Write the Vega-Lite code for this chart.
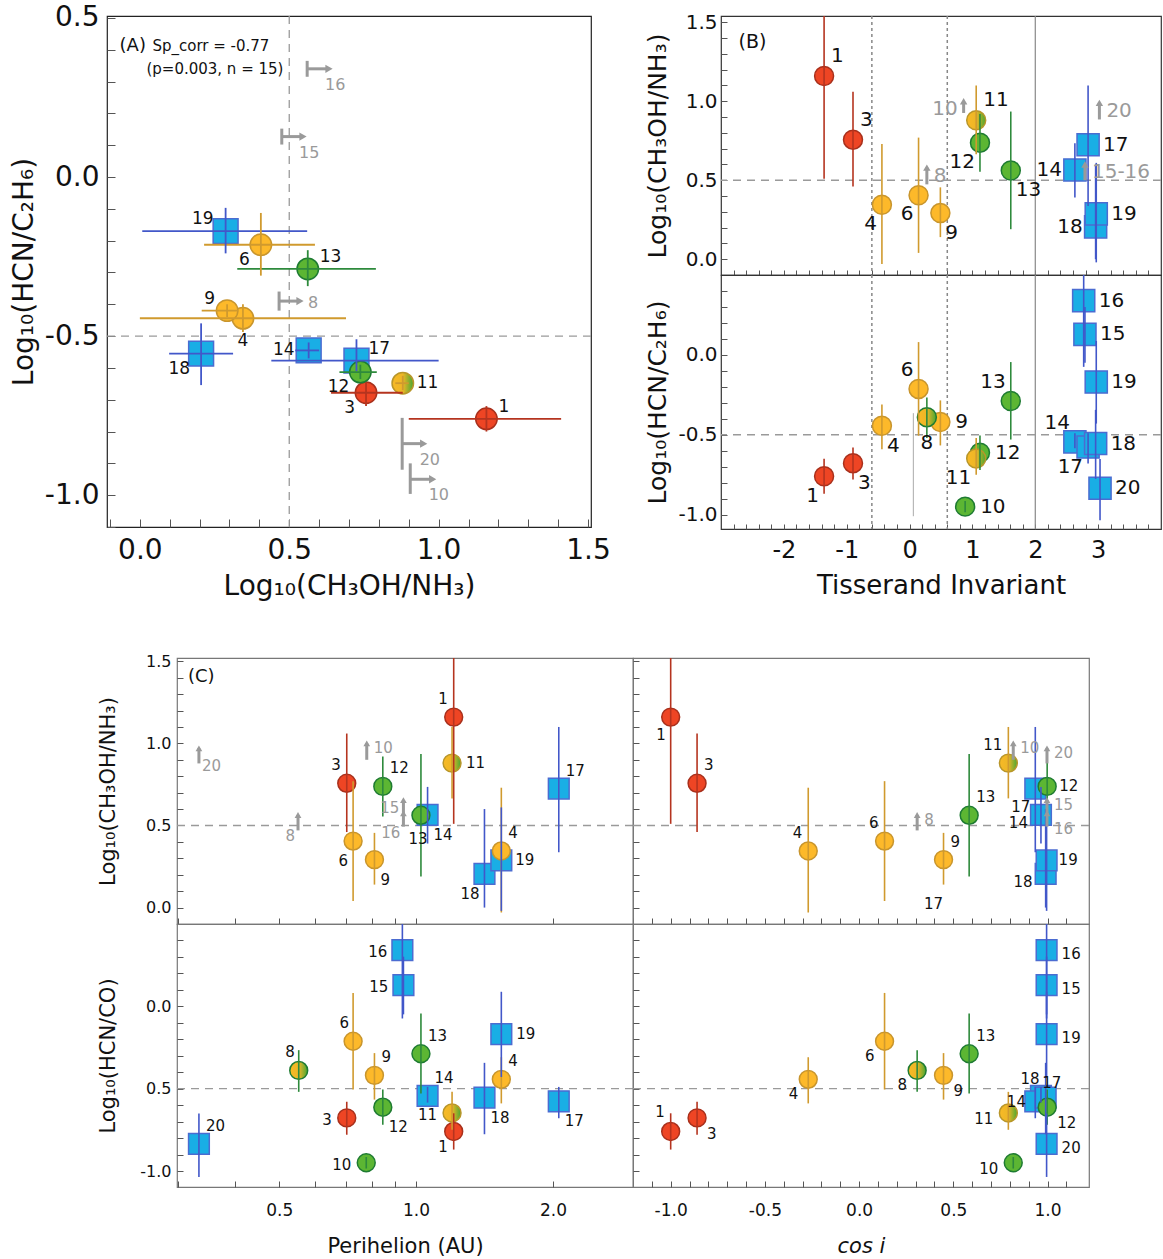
{
"$schema": "https://vega.github.io/schema/vega-lite/v6.json",
"padding": {"left": 9, "top": 3, "right": 0, "bottom": 0},
"background": "white",
"config": {
 "font": "DejaVu Sans",
 "view": {"stroke": "#333", "strokeWidth": 1.2},
 "axis": {"grid": false, "domain": false, "labelFont": "DejaVu Sans", "titleFont": "DejaVu Sans", "titleFontWeight": "normal", "labelColor": "#111", "titleColor": "#111", "tickColor": "#555", "tickWidth": 1, "labelOverlap": false, "labelFlush": false, "labelBound": false},
 "text": {"font": "DejaVu Sans", "color": "#111"}
},
"datasets": {
 "one": [{}],
 "comets": [
  {"id":1,"grp":"red","shp":"circle","grad":false,"m":1.16,"mlo":0.51,"mhi":1.6,"axlo":0.9,"axhi":1.41,"e":-0.76,"elo":-0.87,"ehi":-0.65,"aylo":-0.8,"ayhi":-0.72,"T":-1.36,"q":1.21,"c":-1.0,"la":"ne","lbt":"ne","lbb":"sw","lctl":"nw","lctr":"sw","lcbl":"sw","lcbr":"nw"},
  {"id":3,"grp":"red","shp":"circle","grad":false,"m":0.757,"mlo":0.46,"mhi":1.06,"axlo":0.64,"axhi":0.88,"e":-0.678,"elo":-0.78,"ehi":-0.58,"aylo":-0.72,"ayhi":-0.645,"T":-0.9,"q":0.704,"c":-0.86,"la":"sw","lbt":"ne","lbb":"se","lctl":"nw","lctr":"ne","lcbl":"w","lcbr":"se"},
  {"id":4,"grp":"orange","shp":"circle","grad":false,"m":0.345,"mlo":-0.03,"mhi":0.73,"axlo":0.0,"axhi":0.69,"e":-0.444,"elo":-0.59,"ehi":-0.31,"aylo":-0.487,"ayhi":-0.4,"T":-0.44,"q":1.54,"c":-0.27,"la":"s","lbt":"sw","lbb":"se","lctl":"ne","lctr":"nw","lcbl":"ne","lcbr":"sw"},
  {"id":6,"grp":"orange","shp":"circle","grad":false,"m":0.405,"mlo":0.04,"mhi":0.77,"axlo":0.215,"axhi":0.586,"e":-0.213,"elo":-0.506,"ehi":0.08,"aylo":-0.31,"ayhi":-0.113,"T":0.143,"q":0.727,"c":0.135,"la":"sw","lbt":"sw","lbb":"nw","lctl":"sw","lctr":"nw","lcbl":"nw","lcbr":"sw"},
  {"id":8,"grp":"green","shp":"circle","grad":true,"m":null,"e":-0.39,"elo":-0.52,"ehi":-0.267,"T":0.275,"q":0.552,"c":0.308,"lbb":"s","lcbl":"nw","lcbr":"sw"},
  {"id":9,"grp":"orange","shp":"circle","grad":false,"m":0.292,"mlo":0.14,"mhi":0.455,"axlo":0.207,"axhi":0.33,"e":-0.42,"elo":-0.567,"ehi":-0.285,"aylo":-0.44,"ayhi":-0.4,"T":0.49,"q":0.81,"c":0.448,"la":"nw","lbt":"se","lbb":"e","lctl":"se","lctr":"ne","lcbl":"ne","lcbr":"se"},
  {"id":10,"grp":"green","shp":"circle","grad":false,"m":null,"e":-0.95,"elo":-0.985,"ehi":-0.915,"T":0.884,"q":0.777,"c":0.818,"lbb":"e","lcbl":"w","lcbr":"w"},
  {"id":11,"grp":"orange","shp":"circle","grad":true,"m":0.88,"mlo":0.665,"mhi":1.1,"axlo":0.855,"axhi":0.9,"e":-0.648,"elo":-0.75,"ehi":-0.52,"aylo":-0.67,"ayhi":-0.625,"T":1.06,"q":1.2,"c":0.792,"la":"e","lbt":"ne","lbb":"sw","lctl":"e","lctr":"nw","lcbl":"w","lcbr":"w"},
  {"id":12,"grp":"green","shp":"circle","grad":false,"m":0.738,"mlo":0.554,"mhi":0.92,"axlo":0.668,"axhi":0.793,"e":-0.613,"elo":-0.72,"ehi":-0.505,"aylo":-0.635,"ayhi":-0.59,"T":1.12,"q":0.845,"c":0.998,"la":"sw","lbt":"sw","lbb":"e","lctl":"ne","lctr":"e","lcbl":"se","lcbr":"se"},
  {"id":13,"grp":"green","shp":"circle","grad":false,"m":0.562,"mlo":0.19,"mhi":0.935,"axlo":0.326,"axhi":0.79,"e":-0.289,"elo":-0.53,"ehi":-0.045,"aylo":-0.343,"ayhi":-0.23,"T":1.61,"q":1.025,"c":0.584,"la":"ne","lbt":"se","lbb":"nw","lctl":"s","lctr":"ne","lcbl":"ne","lcbr":"ne"},
  {"id":14,"grp":"blue","shp":"square","grad":false,"m":0.565,"mlo":0.39,"mhi":0.735,"axlo":0.52,"axhi":0.6,"e":-0.545,"elo":-0.585,"ehi":-0.49,"aylo":-0.57,"ayhi":-0.52,"T":2.63,"q":1.06,"c":0.965,"la":"w","lbt":"w","lbb":"nw","lctl":"se","lctr":"w","lcbl":"ne","lcbr":"w"},
  {"id":15,"grp":"blue","shp":"square","grad":false,"m":null,"e":0.128,"elo":-0.05,"ehi":0.3,"T":2.79,"q":0.938,"c":0.995,"lbb":"e","lcbl":"w","lcbr":"e"},
  {"id":16,"grp":"blue","shp":"square","grad":false,"m":null,"e":0.34,"elo":-0.075,"ehi":0.6,"T":2.77,"q":0.933,"c":0.995,"lbb":"e","lcbl":"w","lcbr":"e"},
  {"id":17,"grp":"blue","shp":"square","grad":false,"m":0.725,"mlo":0.337,"mhi":1.1,"axlo":0.44,"axhi":1.0,"e":-0.577,"elo":-0.68,"ehi":-0.49,"aylo":-0.61,"ayhi":-0.51,"T":2.84,"q":2.06,"c":0.935,"la":"ne","lbt":"e","lbb":"sw","lctl":"ne","lctr":"sw","lcbl":"se","lcbr":"ne"},
  {"id":18,"grp":"blue","shp":"square","grad":false,"m":0.205,"mlo":0.0,"mhi":0.6,"axlo":0.098,"axhi":0.312,"e":-0.555,"elo":-0.777,"ehi":-0.344,"aylo":-0.654,"ayhi":-0.46,"T":2.96,"q":1.414,"c":0.99,"la":"sw","lbt":"w","lbb":"e","lctl":"sw","lctr":"w","lcbl":"se","lcbr":"nw"},
  {"id":19,"grp":"blue","shp":"square","grad":false,"m":0.287,"mlo":-0.02,"mhi":0.61,"axlo":0.008,"axhi":0.56,"e":-0.17,"elo":-0.43,"ehi":0.087,"aylo":-0.24,"ayhi":-0.097,"T":2.97,"q":1.54,"c":0.995,"la":"nw","lbt":"e","lbb":"e","lctl":"e","lctr":"e","lcbl":"e","lcbr":"e"},
  {"id":20,"grp":"blue","shp":"square","grad":false,"m":null,"e":-0.835,"elo":-1.036,"ehi":-0.652,"T":3.03,"q":0.333,"c":0.995,"lbb":"e","lcbl":"ne","lcbr":"e"}
 ],
 "limA": [
  {"lab":"16","y":0.34,"x0":0.56,"x1":0.633,"ylo":0.315,"yhi":0.365,"ld":"se"},
  {"lab":"15","y":0.127,"x0":0.475,"x1":0.546,"ylo":0.102,"yhi":0.152,"ld":"se"},
  {"lab":"8","y":-0.39,"x0":0.466,"x1":0.536,"ylo":-0.42,"yhi":-0.36,"ld":"e"},
  {"lab":"20","y":-0.838,"x0":0.878,"x1":0.95,"ylo":-0.92,"yhi":-0.757,"ld":"se"},
  {"lab":"10","y":-0.95,"x0":0.905,"x1":0.98,"ylo":-0.996,"yhi":-0.9,"ld":"se"}
 ],
 "limBt": [
  {"lab":"10","T":0.86,"y0":0.926,"y1":1.0,"ld":"tw"},
  {"lab":"8","T":0.275,"y0":0.474,"y1":0.58,"ld":"te"},
  {"lab":"20","T":3.02,"y0":0.885,"y1":0.99,"ld":"te"},
  {"lab":"15-16","T":2.79,"y0":0.5,"y1":0.6,"ld":"te"}
 ],
 "limC": [
  {"lab":"20","q":0.333,"c":0.997,"y0":0.878,"y1":0.97,"ltl":"tse","ltr":"te"},
  {"lab":"10","q":0.779,"c":0.818,"y0":0.9,"y1":1.0,"ltl":"te","ltr":"te"},
  {"lab":"8","q":0.55,"c":0.308,"y0":0.47,"y1":0.564,"ltl":"bw","ltr":"te"},
  {"lab":"15","q":0.938,"c":0.997,"y0":0.564,"y1":0.655,"ltl":"tw","ltr":"te"},
  {"lab":"16","q":0.938,"c":0.997,"y0":0.493,"y1":0.574,"ltl":"bw","ltr":"be"}
 ]
},
"spacing": 51,
"vconcat": [
 {"spacing": 33, "hconcat": [
  {"width": 484, "height": 511, "view": {"stroke": "#222"}, "data": {"name": "comets"},
   "layer": [
    {"data": {"name": "one"}, "mark": {"type":"rule","color":"#9a9a9a","strokeDash":[8,6],"strokeWidth":1.3}, "encoding": {"x": {"datum": 0.5}}},
    {"data": {"name": "one"}, "mark": {"type":"rule","color":"#9a9a9a","strokeDash":[8,6],"strokeWidth":1.3}, "encoding": {"y": {"datum": -0.5}}},
    {"transform":[{"filter":"isValid(datum.m) && datum.shp=='square'"}],
     "mark":{"type":"point","shape":"square","filled":true,"size":620,"strokeWidth":1.5,"opacity":1},
     "encoding":{
      "x":{"field":"m","type":"quantitative","scale":{"domain":[-0.11,1.51],"nice":false,"zero":false},"axis":{"title":"Log₁₀(CH₃OH/NH₃)","values":[-0.1,0,0.1,0.2,0.3,0.4,0.5,0.6,0.7,0.8,0.9,1,1.1,1.2,1.3,1.4,1.5],"tickCount":500,"labelExpr":"abs(datum.value*2-round(datum.value*2))<0.01 ? replace(format(datum.value,'.1f'),'−','-') : ''","labelOverlap":false,"tickSize":-8,"labelPadding":17,"labelFontSize":28,"titleFontSize":28,"titlePadding":8}},
      "y":{"field":"e","type":"quantitative","scale":{"domain":[-1.1,0.506],"nice":false,"zero":false},"axis":{"title":"Log₁₀(HCN/C₂H₆)","values":[-1.1,-1,-0.9,-0.8,-0.7,-0.6,-0.5,-0.4,-0.3,-0.2,-0.1,0,0.1,0.2,0.3,0.4,0.5],"tickCount":500,"labelExpr":"abs(datum.value*2-round(datum.value*2))<0.01 ? replace(format(datum.value,'.1f'),'−','-') : ''","labelOverlap":false,"tickSize":-8,"labelPadding":16,"labelFontSize":28,"titleFontSize":28,"titlePadding":6}},
      "fill":{"field":"grp","type":"nominal","scale":{"domain":["red","orange","green","blue"],"range":["#EE4524","#FDB92A","#5CB633","#19AEE5"]},"legend":null},
      "stroke":{"field":"grp","type":"nominal","scale":{"domain":["red","orange","green","blue"],"range":["#A8301C","#C8952D","#1E7B32","#4B6CD1"]},"legend":null}}},
    {"transform":[{"filter":"isValid(datum.m) && datum.shp=='circle' && !datum.grad"}],
     "mark":{"type":"point","shape":"circle","filled":true,"size":460,"strokeWidth":1.5,"opacity":1},
     "encoding":{"x":{"field":"m","type":"quantitative"},"y":{"field":"e","type":"quantitative"},
      "fill":{"field":"grp","type":"nominal","legend":null},"stroke":{"field":"grp","type":"nominal","legend":null}}},
    {"transform":[{"filter":"isValid(datum.m) && datum.grad"}],
     "mark":{"type":"point","shape":"circle","filled":true,"size":460,"strokeWidth":1.5,"opacity":1,"fill":{"gradient":"linear","x1":0,"y1":0,"x2":1,"y2":0,"stops":[{"offset":0,"color":"#F8BA26"},{"offset":0.5,"color":"#EDB626"},{"offset":1,"color":"#45A832"}]}},
     "encoding":{"x":{"field":"m","type":"quantitative"},"y":{"field":"e","type":"quantitative"},"stroke":{"condition":{"test":"datum.id==8","value":"#1E7B32"},"value":"#B8962A"}}},
    {"transform":[{"filter":"isValid(datum.m)"}],"mark":{"type":"rule","strokeWidth":1.8},
     "encoding":{"x":{"field":"axlo","type":"quantitative"},"x2":{"field":"axhi"},"y":{"field":"e","type":"quantitative"},
      "color":{"field":"grp","type":"nominal","scale":{"domain":["red","orange","green","blue"],"range":["#B5341F","#D09A2E","#2E8A3C","#4257C9"]},"legend":null}}},
    {"transform":[{"filter":"isValid(datum.m)"}],"mark":{"type":"rule","strokeWidth":1.8},
     "encoding":{"x":{"field":"m","type":"quantitative"},"y":{"field":"aylo","type":"quantitative"},"y2":{"field":"ayhi"},"color":{"field":"grp","type":"nominal","legend":null}}},
    {"transform":[{"filter":"isValid(datum.m) && datum.la=='ne'"}],"mark":{"type":"text","align":"left","baseline":"middle","dx":12,"dy":-12,"fontSize":17},"encoding":{"x":{"field":"m","type":"quantitative"},"y":{"field":"e","type":"quantitative"},"text":{"field":"id","type":"nominal"}}},
    {"transform":[{"filter":"isValid(datum.m) && datum.la=='nw'"}],"mark":{"type":"text","align":"right","baseline":"middle","dx":-12,"dy":-12,"fontSize":17},"encoding":{"x":{"field":"m","type":"quantitative"},"y":{"field":"e","type":"quantitative"},"text":{"field":"id","type":"nominal"}}},
    {"transform":[{"filter":"isValid(datum.m) && datum.la=='sw'"}],"mark":{"type":"text","align":"right","baseline":"middle","dx":-11,"dy":15,"fontSize":17},"encoding":{"x":{"field":"m","type":"quantitative"},"y":{"field":"e","type":"quantitative"},"text":{"field":"id","type":"nominal"}}},
    {"transform":[{"filter":"isValid(datum.m) && datum.la=='s'"}],"mark":{"type":"text","align":"center","baseline":"middle","dx":0,"dy":23,"fontSize":17},"encoding":{"x":{"field":"m","type":"quantitative"},"y":{"field":"e","type":"quantitative"},"text":{"field":"id","type":"nominal"}}},
    {"transform":[{"filter":"isValid(datum.m) && datum.la=='w'"}],"mark":{"type":"text","align":"right","baseline":"middle","dx":-14,"dy":0,"fontSize":17},"encoding":{"x":{"field":"m","type":"quantitative"},"y":{"field":"e","type":"quantitative"},"text":{"field":"id","type":"nominal"}}},
    {"transform":[{"filter":"isValid(datum.m) && datum.la=='e'"}],"mark":{"type":"text","align":"left","baseline":"middle","dx":14,"dy":0,"fontSize":17},"encoding":{"x":{"field":"m","type":"quantitative"},"y":{"field":"e","type":"quantitative"},"text":{"field":"id","type":"nominal"}}},
    {"data":{"name":"limA"},"mark":{"type":"rule","color":"#9a9a9a","strokeWidth":3},"encoding":{"x":{"field":"x0","type":"quantitative"},"x2":{"field":"x1"},"y":{"field":"y","type":"quantitative"}}},
    {"data":{"name":"limA"},"mark":{"type":"rule","color":"#9a9a9a","strokeWidth":3},"encoding":{"x":{"field":"x0","type":"quantitative"},"y":{"field":"ylo","type":"quantitative"},"y2":{"field":"yhi"}}},
    {"data":{"name":"limA"},"mark":{"type":"point","shape":"triangle-right","filled":true,"size":70,"color":"#9a9a9a","opacity":1},"encoding":{"x":{"field":"x1","type":"quantitative"},"y":{"field":"y","type":"quantitative"}}},
    {"data":{"name":"limA"},"transform":[{"filter":"datum.ld=='se'"}],"mark":{"type":"text","align":"left","baseline":"middle","dx":-4,"dy":16,"fontSize":16,"color":"#9a9a9a"},"encoding":{"x":{"field":"x1","type":"quantitative"},"y":{"field":"y","type":"quantitative"},"text":{"field":"lab","type":"nominal"}}},
    {"data":{"name":"limA"},"transform":[{"filter":"datum.ld=='e'"}],"mark":{"type":"text","align":"left","baseline":"middle","dx":8,"dy":2,"fontSize":16,"color":"#9a9a9a"},"encoding":{"x":{"field":"x1","type":"quantitative"},"y":{"field":"y","type":"quantitative"},"text":{"field":"lab","type":"nominal"}}},
    {"data": {"name": "one"}, "mark":{"type":"text","align":"left","baseline":"middle","fontSize":18,"text":"(A)"},"encoding":{"x":{"datum":-0.068},"y":{"datum":0.412}}},
    {"data": {"name": "one"}, "mark":{"type":"text","align":"left","baseline":"middle","fontSize":15,"text":"Sp_corr = -0.77"},"encoding":{"x":{"datum":0.042},"y":{"datum":0.412}}},
    {"data": {"name": "one"}, "mark":{"type":"text","align":"left","baseline":"middle","fontSize":15,"text":"(p=0.003, n = 15)"},"encoding":{"x":{"datum":0.022},"y":{"datum":0.34}}}
   ]},
  {"spacing": 0, "bounds": "flush", "vconcat": [
   {"width": 440, "height": 259, "view": {"stroke": "#333"}, "data": {"name": "comets"},
    "layer": [
     {"data": {"name": "one"}, "mark": {"type":"rule","color":"#888","strokeDash":[3,3],"strokeWidth":1.5}, "encoding": {"x": {"datum": -0.6}}},
     {"data": {"name": "one"}, "mark": {"type":"rule","color":"#888","strokeDash":[3,3],"strokeWidth":1.5}, "encoding": {"x": {"datum": 0.6}}},
     {"data": {"name": "one"}, "mark": {"type":"rule","color":"#888","strokeWidth":1.2}, "encoding": {"x": {"datum": 2}}},
     {"data": {"name": "one"}, "mark": {"type":"rule","color":"#9a9a9a","strokeDash":[8,6],"strokeWidth":1.3}, "encoding": {"y": {"datum": 0.5}}},
     {"transform":[{"filter":"isValid(datum.m) && datum.shp=='square'"}],
      "mark":{"type":"point","shape":"square","filled":true,"size":490,"strokeWidth":1.5,"opacity":1},
      "encoding":{
       "x":{"field":"T","type":"quantitative","scale":{"domain":[-3,4],"nice":false,"zero":false},"axis":{"labels":false,"title":null,"values":[-2.8,-2.6,-2.4,-2.2,-2,-1.8,-1.6,-1.4,-1.2,-1,-0.8,-0.6,-0.4,-0.2,0,0.2,0.4,0.6,0.8,1,1.2,1.4,1.6,1.8,2,2.2,2.4,2.6,2.8,3,3.2,3.4,3.6,3.8],"tickCount":500,"tickSize":-5}},
       "y":{"field":"m","type":"quantitative","scale":{"domain":[-0.1,1.54],"nice":false,"zero":false},"axis":{"title":"Log₁₀(CH₃OH/NH₃)","values":[0,0.1,0.2,0.3,0.4,0.5,0.6,0.7,0.8,0.9,1,1.1,1.2,1.3,1.4,1.5],"tickCount":500,"labelExpr":"abs(datum.value*2-round(datum.value*2))<0.01 ? replace(format(datum.value,'.1f'),'−','-') : ''","labelOverlap":false,"tickSize":-6,"labelPadding":10,"labelFontSize":20,"titleFontSize":25,"titlePadding":6,"minExtent":45,"maxExtent":45}},
       "fill":{"field":"grp","type":"nominal","scale":{"domain":["red","orange","green","blue"],"range":["#EE4524","#FDB92A","#5CB633","#19AEE5"]},"legend":null},
       "stroke":{"field":"grp","type":"nominal","scale":{"domain":["red","orange","green","blue"],"range":["#A8301C","#C8952D","#1E7B32","#4B6CD1"]},"legend":null}}},
     {"transform":[{"filter":"isValid(datum.m) && datum.shp=='circle' && !datum.grad"}],
      "mark":{"type":"point","shape":"circle","filled":true,"size":360,"strokeWidth":1.5,"opacity":1},
      "encoding":{"x":{"field":"T","type":"quantitative"},"y":{"field":"m","type":"quantitative"},"fill":{"field":"grp","type":"nominal","legend":null},"stroke":{"field":"grp","type":"nominal","legend":null}}},
     {"transform":[{"filter":"isValid(datum.m) && datum.grad"}],
      "mark":{"type":"point","shape":"circle","filled":true,"size":360,"strokeWidth":1.5,"opacity":1,"fill":{"gradient":"linear","x1":0,"y1":0,"x2":1,"y2":0,"stops":[{"offset":0,"color":"#F8BA26"},{"offset":0.5,"color":"#EDB626"},{"offset":1,"color":"#45A832"}]}},
      "encoding":{"x":{"field":"T","type":"quantitative"},"y":{"field":"m","type":"quantitative"},"stroke":{"condition":{"test":"datum.id==8","value":"#1E7B32"},"value":"#B8962A"}}},
     {"transform":[{"filter":"isValid(datum.m)"}],"mark":{"type":"rule","strokeWidth":1.6,"clip":true},
      "encoding":{"x":{"field":"T","type":"quantitative"},"y":{"field":"mlo","type":"quantitative"},"y2":{"field":"mhi"},
       "color":{"field":"grp","type":"nominal","scale":{"domain":["red","orange","green","blue"],"range":["#B5341F","#D09A2E","#2E8A3C","#4257C9"]},"legend":null}}},
     {"transform":[{"filter":"isValid(datum.m) && datum.lbt=='ne'"}],"mark":{"type":"text","align":"left","baseline":"middle","dx":7,"dy":-20,"fontSize":20},"encoding":{"x":{"field":"T","type":"quantitative"},"y":{"field":"m","type":"quantitative"},"text":{"field":"id","type":"nominal"}}},
     {"transform":[{"filter":"isValid(datum.m) && datum.lbt=='sw'"}],"mark":{"type":"text","align":"right","baseline":"middle","dx":-5,"dy":19,"fontSize":20},"encoding":{"x":{"field":"T","type":"quantitative"},"y":{"field":"m","type":"quantitative"},"text":{"field":"id","type":"nominal"}}},
     {"transform":[{"filter":"isValid(datum.m) && datum.lbt=='se'"}],"mark":{"type":"text","align":"left","baseline":"middle","dx":5,"dy":20,"fontSize":20},"encoding":{"x":{"field":"T","type":"quantitative"},"y":{"field":"m","type":"quantitative"},"text":{"field":"id","type":"nominal"}}},
     {"transform":[{"filter":"isValid(datum.m) && datum.lbt=='w'"}],"mark":{"type":"text","align":"right","baseline":"middle","dx":-13,"dy":0,"fontSize":20},"encoding":{"x":{"field":"T","type":"quantitative"},"y":{"field":"m","type":"quantitative"},"text":{"field":"id","type":"nominal"}}},
     {"transform":[{"filter":"isValid(datum.m) && datum.lbt=='e'"}],"mark":{"type":"text","align":"left","baseline":"middle","dx":15,"dy":0,"fontSize":20},"encoding":{"x":{"field":"T","type":"quantitative"},"y":{"field":"m","type":"quantitative"},"text":{"field":"id","type":"nominal"}}},
     {"data":{"name":"limBt"},"mark":{"type":"rule","color":"#9a9a9a","strokeWidth":3},"encoding":{"x":{"field":"T","type":"quantitative"},"y":{"field":"y0","type":"quantitative"},"y2":{"field":"y1"}}},
     {"data":{"name":"limBt"},"mark":{"type":"point","shape":"triangle-up","filled":true,"size":55,"color":"#9a9a9a","opacity":1},"encoding":{"x":{"field":"T","type":"quantitative"},"y":{"field":"y1","type":"quantitative"}}},
     {"data":{"name":"limBt"},"transform":[{"filter":"datum.ld=='te'"}],"mark":{"type":"text","align":"left","baseline":"middle","dx":7,"dy":8,"fontSize":20,"color":"#9a9a9a"},"encoding":{"x":{"field":"T","type":"quantitative"},"y":{"field":"y1","type":"quantitative"},"text":{"field":"lab","type":"nominal"}}},
     {"data":{"name":"limBt"},"transform":[{"filter":"datum.ld=='tw'"}],"mark":{"type":"text","align":"right","baseline":"middle","dx":-6,"dy":8,"fontSize":20,"color":"#9a9a9a"},"encoding":{"x":{"field":"T","type":"quantitative"},"y":{"field":"y1","type":"quantitative"},"text":{"field":"lab","type":"nominal"}}},
     {"data": {"name": "one"}, "mark":{"type":"text","align":"left","baseline":"middle","fontSize":19,"text":"(B)"},"encoding":{"x":{"datum":-2.72},"y":{"datum":1.378}}}
    ]},
   {"width": 440, "height": 254, "view": {"stroke": "#333"}, "data": {"name": "comets"},
    "layer": [
     {"data": {"name": "one"}, "mark": {"type":"rule","color":"#888","strokeDash":[3,3],"strokeWidth":1.5}, "encoding": {"x": {"datum": -0.6}}},
     {"data": {"name": "one"}, "mark": {"type":"rule","color":"#888","strokeDash":[3,3],"strokeWidth":1.5}, "encoding": {"x": {"datum": 0.6}}},
     {"data": {"name": "one"}, "mark": {"type":"rule","color":"#888","strokeWidth":1.2}, "encoding": {"x": {"datum": 2}}},
     {"data": {"name": "one"}, "mark": {"type":"rule","color":"#9a9a9a","strokeDash":[8,6],"strokeWidth":1.3}, "encoding": {"y": {"datum": -0.5}}},
     {"data": {"name": "one"}, "mark": {"type":"rule","color":"#aaa","strokeWidth":1}, "encoding": {"x": {"datum": 0.06}, "y": {"datum": -0.365}, "y2": {"datum": -1.01}}},
     {"transform":[{"filter":"datum.shp=='square'"}],
      "mark":{"type":"point","shape":"square","filled":true,"size":490,"strokeWidth":1.5,"opacity":1},
      "encoding":{
       "x":{"field":"T","type":"quantitative","scale":{"domain":[-3,4],"nice":false,"zero":false},"axis":{"title":"Tisserand Invariant","values":[-2.8,-2.6,-2.4,-2.2,-2,-1.8,-1.6,-1.4,-1.2,-1,-0.8,-0.6,-0.4,-0.2,0,0.2,0.4,0.6,0.8,1,1.2,1.4,1.6,1.8,2,2.2,2.4,2.6,2.8,3,3.2,3.4,3.6,3.8],"tickCount":500,"labelExpr":"abs(datum.value-round(datum.value))<0.01 ? replace(format(datum.value,'.0f'),'−','-') : ''","labelOverlap":false,"tickSize":-5,"labelPadding":14,"labelFontSize":24,"titleFontSize":26,"titlePadding":10}},
       "y":{"field":"e","type":"quantitative","scale":{"domain":[-1.09,0.5],"nice":false,"zero":false},"axis":{"title":"Log₁₀(HCN/C₂H₆)","values":[-1,-0.9,-0.8,-0.7,-0.6,-0.5,-0.4,-0.3,-0.2,-0.1,0,0.1,0.2,0.3,0.4],"tickCount":500,"labelExpr":"abs(datum.value*2-round(datum.value*2))<0.01 ? replace(format(datum.value,'.1f'),'−','-') : ''","labelOverlap":false,"tickSize":-6,"labelPadding":10,"labelFontSize":20,"titleFontSize":25,"titlePadding":6,"minExtent":45,"maxExtent":45}},
       "fill":{"field":"grp","type":"nominal","scale":{"domain":["red","orange","green","blue"],"range":["#EE4524","#FDB92A","#5CB633","#19AEE5"]},"legend":null},
       "stroke":{"field":"grp","type":"nominal","scale":{"domain":["red","orange","green","blue"],"range":["#A8301C","#C8952D","#1E7B32","#4B6CD1"]},"legend":null}}},
     {"transform":[{"filter":"datum.shp=='circle' && !datum.grad"}],
      "mark":{"type":"point","shape":"circle","filled":true,"size":360,"strokeWidth":1.5,"opacity":1},
      "encoding":{"x":{"field":"T","type":"quantitative"},"y":{"field":"e","type":"quantitative"},"fill":{"field":"grp","type":"nominal","legend":null},"stroke":{"field":"grp","type":"nominal","legend":null}}},
     {"transform":[{"filter":"datum.grad"}],
      "mark":{"type":"point","shape":"circle","filled":true,"size":360,"strokeWidth":1.5,"opacity":1,"fill":{"gradient":"linear","x1":0,"y1":0,"x2":1,"y2":0,"stops":[{"offset":0,"color":"#F8BA26"},{"offset":0.5,"color":"#EDB626"},{"offset":1,"color":"#45A832"}]}},
      "encoding":{"x":{"field":"T","type":"quantitative"},"y":{"field":"e","type":"quantitative"},"stroke":{"condition":{"test":"datum.id==8","value":"#1E7B32"},"value":"#B8962A"}}},
     {"mark":{"type":"rule","strokeWidth":1.6,"clip":true},
      "encoding":{"x":{"field":"T","type":"quantitative"},"y":{"field":"elo","type":"quantitative"},"y2":{"field":"ehi"},
       "color":{"field":"grp","type":"nominal","scale":{"domain":["red","orange","green","blue"],"range":["#B5341F","#D09A2E","#2E8A3C","#4257C9"]},"legend":null}}},
     {"transform":[{"filter":"datum.lbb=='sw'"}],"mark":{"type":"text","align":"right","baseline":"middle","dx":-5,"dy":20,"fontSize":20},"encoding":{"x":{"field":"T","type":"quantitative"},"y":{"field":"e","type":"quantitative"},"text":{"field":"id","type":"nominal"}}},
     {"transform":[{"filter":"datum.lbb=='se'"}],"mark":{"type":"text","align":"left","baseline":"middle","dx":5,"dy":20,"fontSize":20},"encoding":{"x":{"field":"T","type":"quantitative"},"y":{"field":"e","type":"quantitative"},"text":{"field":"id","type":"nominal"}}},
     {"transform":[{"filter":"datum.lbb=='nw'"}],"mark":{"type":"text","align":"right","baseline":"middle","dx":-5,"dy":-19,"fontSize":20},"encoding":{"x":{"field":"T","type":"quantitative"},"y":{"field":"e","type":"quantitative"},"text":{"field":"id","type":"nominal"}}},
     {"transform":[{"filter":"datum.lbb=='s'"}],"mark":{"type":"text","align":"center","baseline":"middle","dx":0,"dy":26,"fontSize":20},"encoding":{"x":{"field":"T","type":"quantitative"},"y":{"field":"e","type":"quantitative"},"text":{"field":"id","type":"nominal"}}},
     {"transform":[{"filter":"datum.lbb=='e'"}],"mark":{"type":"text","align":"left","baseline":"middle","dx":15,"dy":0,"fontSize":20},"encoding":{"x":{"field":"T","type":"quantitative"},"y":{"field":"e","type":"quantitative"},"text":{"field":"id","type":"nominal"}}}
    ]}
  ]}
 ]},
 {"columns": 3, "spacing": 0, "bounds": "flush", "concat": [
   {"width": 70, "height": 10, "view": {"stroke": null}, "data": {"values": []}, "mark": "point", "encoding": {}},
   {"width": 456, "height": 266, "view": {"stroke": "#777"}, "data": {"name": "comets"},
    "layer": [
     {"data": {"name": "one"}, "mark": {"type":"rule","color":"#9a9a9a","strokeDash":[8,6],"strokeWidth":1.3}, "encoding": {"y": {"datum": 0.5}}},
     {"transform":[{"filter":"isValid(datum.m) && datum.shp=='square'"}],
      "mark":{"type":"point","shape":"square","filled":true,"size":430,"strokeWidth":1.5,"opacity":1},
      "encoding":{
       "x":{"field":"q","type":"quantitative","scale":{"type":"log","domain":[0.298,3.0],"nice":false,"zero":false},"axis":{"labels":false,"title":null,"values":[0.3,0.4,0.5,0.6,0.7,0.8,0.9,1,2,3],"tickCount":500,"tickSize":-6}},
       "y":{"field":"m","type":"quantitative","scale":{"domain":[-0.1,1.52],"nice":false,"zero":false},"axis":{"title":"Log₁₀(CH₃OH/NH₃)","values":[0,0.1,0.2,0.3,0.4,0.5,0.6,0.7,0.8,0.9,1,1.1,1.2,1.3,1.4,1.5],"tickCount":500,"labelExpr":"abs(datum.value*2-round(datum.value*2))<0.01 ? replace(format(datum.value,'.1f'),'−','-') : ''","labelOverlap":false,"tickSize":-6,"labelPadding":12,"labelFontSize":16,"titleFontSize":21,"titlePadding":27,"minExtent":32,"maxExtent":32}},
       "fill":{"field":"grp","type":"nominal","scale":{"domain":["red","orange","green","blue"],"range":["#EE4524","#FDB92A","#5CB633","#19AEE5"]},"legend":null},
       "stroke":{"field":"grp","type":"nominal","scale":{"domain":["red","orange","green","blue"],"range":["#A8301C","#C8952D","#1E7B32","#4B6CD1"]},"legend":null}}},
     {"transform":[{"filter":"isValid(datum.m) && datum.shp=='circle' && !datum.grad"}],
      "mark":{"type":"point","shape":"circle","filled":true,"size":320,"strokeWidth":1.5,"opacity":1},
      "encoding":{"x":{"field":"q","type":"quantitative"},"y":{"field":"m","type":"quantitative"},"fill":{"field":"grp","type":"nominal","legend":null},"stroke":{"field":"grp","type":"nominal","legend":null}}},
     {"transform":[{"filter":"isValid(datum.m) && datum.grad"}],
      "mark":{"type":"point","shape":"circle","filled":true,"size":320,"strokeWidth":1.5,"opacity":1,"fill":{"gradient":"linear","x1":0,"y1":0,"x2":1,"y2":0,"stops":[{"offset":0,"color":"#F8BA26"},{"offset":0.5,"color":"#EDB626"},{"offset":1,"color":"#45A832"}]}},
      "encoding":{"x":{"field":"q","type":"quantitative"},"y":{"field":"m","type":"quantitative"},"stroke":{"condition":{"test":"datum.id==8","value":"#1E7B32"},"value":"#B8962A"}}},
     {"transform":[{"filter":"isValid(datum.m)"}],"mark":{"type":"rule","strokeWidth":1.6,"clip":true},
      "encoding":{"x":{"field":"q","type":"quantitative"},"y":{"field":"mlo","type":"quantitative"},"y2":{"field":"mhi"},
       "color":{"field":"grp","type":"nominal","scale":{"domain":["red","orange","green","blue"],"range":["#B5341F","#D09A2E","#2E8A3C","#4257C9"]},"legend":null}}},
     {"transform":[{"filter":"isValid(datum.m) && datum.lctl=='ne'"}],"mark":{"type":"text","align":"left","baseline":"middle","dx":7,"dy":-18,"fontSize":15},"encoding":{"x":{"field":"q","type":"quantitative"},"y":{"field":"m","type":"quantitative"},"text":{"field":"id","type":"nominal"}}},
     {"transform":[{"filter":"isValid(datum.m) && datum.lctl=='nw'"}],"mark":{"type":"text","align":"right","baseline":"middle","dx":-6,"dy":-18,"fontSize":15},"encoding":{"x":{"field":"q","type":"quantitative"},"y":{"field":"m","type":"quantitative"},"text":{"field":"id","type":"nominal"}}},
     {"transform":[{"filter":"isValid(datum.m) && datum.lctl=='se'"}],"mark":{"type":"text","align":"left","baseline":"middle","dx":6,"dy":20,"fontSize":15},"encoding":{"x":{"field":"q","type":"quantitative"},"y":{"field":"m","type":"quantitative"},"text":{"field":"id","type":"nominal"}}},
     {"transform":[{"filter":"isValid(datum.m) && datum.lctl=='sw'"}],"mark":{"type":"text","align":"right","baseline":"middle","dx":-5,"dy":20,"fontSize":15},"encoding":{"x":{"field":"q","type":"quantitative"},"y":{"field":"m","type":"quantitative"},"text":{"field":"id","type":"nominal"}}},
     {"transform":[{"filter":"isValid(datum.m) && datum.lctl=='e'"}],"mark":{"type":"text","align":"left","baseline":"middle","dx":14,"dy":0,"fontSize":15},"encoding":{"x":{"field":"q","type":"quantitative"},"y":{"field":"m","type":"quantitative"},"text":{"field":"id","type":"nominal"}}},
     {"transform":[{"filter":"isValid(datum.m) && datum.lctl=='w'"}],"mark":{"type":"text","align":"right","baseline":"middle","dx":-14,"dy":0,"fontSize":15},"encoding":{"x":{"field":"q","type":"quantitative"},"y":{"field":"m","type":"quantitative"},"text":{"field":"id","type":"nominal"}}},
     {"transform":[{"filter":"isValid(datum.m) && datum.lctl=='s'"}],"mark":{"type":"text","align":"center","baseline":"middle","dx":-3,"dy":24,"fontSize":15},"encoding":{"x":{"field":"q","type":"quantitative"},"y":{"field":"m","type":"quantitative"},"text":{"field":"id","type":"nominal"}}},
     {"data":{"name":"limC"},"mark":{"type":"rule","color":"#9a9a9a","strokeWidth":3},"encoding":{"x":{"field":"q","type":"quantitative"},"y":{"field":"y0","type":"quantitative"},"y2":{"field":"y1"}}},
     {"data":{"name":"limC"},"mark":{"type":"point","shape":"triangle-up","filled":true,"size":45,"color":"#9a9a9a","opacity":1},"encoding":{"x":{"field":"q","type":"quantitative"},"y":{"field":"y1","type":"quantitative"}}},
     {"data":{"name":"limC"},"transform":[{"filter":"datum.ltl=='te'"}],"mark":{"type":"text","align":"left","baseline":"middle","dx":7,"dy":5,"fontSize":15,"color":"#9a9a9a"},"encoding":{"x":{"field":"q","type":"quantitative"},"y":{"field":"y1","type":"quantitative"},"text":{"field":"lab","type":"nominal"}}},
     {"data":{"name":"limC"},"transform":[{"filter":"datum.ltl=='tw'"}],"mark":{"type":"text","align":"right","baseline":"middle","dx":-4,"dy":8,"fontSize":15,"color":"#9a9a9a"},"encoding":{"x":{"field":"q","type":"quantitative"},"y":{"field":"y1","type":"quantitative"},"text":{"field":"lab","type":"nominal"}}},
     {"data":{"name":"limC"},"transform":[{"filter":"datum.ltl=='tse'"}],"mark":{"type":"text","align":"left","baseline":"middle","dx":3,"dy":18,"fontSize":15,"color":"#9a9a9a"},"encoding":{"x":{"field":"q","type":"quantitative"},"y":{"field":"y1","type":"quantitative"},"text":{"field":"lab","type":"nominal"}}},
     {"data":{"name":"limC"},"transform":[{"filter":"datum.ltl=='bw'"}],"mark":{"type":"text","align":"right","baseline":"middle","dx":-3,"dy":6,"fontSize":15,"color":"#9a9a9a"},"encoding":{"x":{"field":"q","type":"quantitative"},"y":{"field":"y0","type":"quantitative"},"text":{"field":"lab","type":"nominal"}}},
     {"data": {"name": "one"}, "mark":{"type":"text","align":"left","baseline":"middle","fontSize":18,"text":"(C)"},"encoding":{"x":{"datum":0.315},"y":{"datum":1.405}}}
    ]},
   {"width": 456, "height": 266, "view": {"stroke": "#777"}, "data": {"name": "comets"},
    "layer": [
     {"data": {"name": "one"}, "mark": {"type":"rule","color":"#9a9a9a","strokeDash":[8,6],"strokeWidth":1.3}, "encoding": {"y": {"datum": 0.5}}},
     {"transform":[{"filter":"isValid(datum.m) && datum.shp=='square'"}],
      "mark":{"type":"point","shape":"square","filled":true,"size":430,"strokeWidth":1.5,"opacity":1},
      "encoding":{
       "x":{"field":"c","type":"quantitative","scale":{"domain":[-1.2,1.22],"nice":false,"zero":false},"axis":{"labels":false,"title":null,"values":[-1.1,-1,-0.9,-0.8,-0.7,-0.6,-0.5,-0.4,-0.3,-0.2,-0.1,0,0.1,0.2,0.3,0.4,0.5,0.6,0.7,0.8,0.9,1,1.1],"tickCount":500,"tickSize":-6}},
       "y":{"field":"m","type":"quantitative","scale":{"domain":[-0.1,1.52],"nice":false,"zero":false},"axis":{"labels":false,"title":null,"values":[0,0.1,0.2,0.3,0.4,0.5,0.6,0.7,0.8,0.9,1,1.1,1.2,1.3,1.4,1.5],"tickCount":500,"tickSize":-6}},
       "fill":{"field":"grp","type":"nominal","scale":{"domain":["red","orange","green","blue"],"range":["#EE4524","#FDB92A","#5CB633","#19AEE5"]},"legend":null},
       "stroke":{"field":"grp","type":"nominal","scale":{"domain":["red","orange","green","blue"],"range":["#A8301C","#C8952D","#1E7B32","#4B6CD1"]},"legend":null}}},
     {"transform":[{"filter":"isValid(datum.m) && datum.shp=='circle' && !datum.grad"}],
      "mark":{"type":"point","shape":"circle","filled":true,"size":320,"strokeWidth":1.5,"opacity":1},
      "encoding":{"x":{"field":"c","type":"quantitative"},"y":{"field":"m","type":"quantitative"},"fill":{"field":"grp","type":"nominal","legend":null},"stroke":{"field":"grp","type":"nominal","legend":null}}},
     {"transform":[{"filter":"isValid(datum.m) && datum.grad"}],
      "mark":{"type":"point","shape":"circle","filled":true,"size":320,"strokeWidth":1.5,"opacity":1,"fill":{"gradient":"linear","x1":0,"y1":0,"x2":1,"y2":0,"stops":[{"offset":0,"color":"#F8BA26"},{"offset":0.5,"color":"#EDB626"},{"offset":1,"color":"#45A832"}]}},
      "encoding":{"x":{"field":"c","type":"quantitative"},"y":{"field":"m","type":"quantitative"},"stroke":{"condition":{"test":"datum.id==8","value":"#1E7B32"},"value":"#B8962A"}}},
     {"transform":[{"filter":"isValid(datum.m)"}],"mark":{"type":"rule","strokeWidth":1.6,"clip":true},
      "encoding":{"x":{"field":"c","type":"quantitative"},"y":{"field":"mlo","type":"quantitative"},"y2":{"field":"mhi"},
       "color":{"field":"grp","type":"nominal","scale":{"domain":["red","orange","green","blue"],"range":["#B5341F","#D09A2E","#2E8A3C","#4257C9"]},"legend":null}}},
     {"transform":[{"filter":"isValid(datum.m) && datum.lctr=='ne'"}],"mark":{"type":"text","align":"left","baseline":"middle","dx":7,"dy":-18,"fontSize":15},"encoding":{"x":{"field":"c","type":"quantitative"},"y":{"field":"m","type":"quantitative"},"text":{"field":"id","type":"nominal"}}},
     {"transform":[{"filter":"isValid(datum.m) && datum.lctr=='nw'"}],"mark":{"type":"text","align":"right","baseline":"middle","dx":-6,"dy":-18,"fontSize":15},"encoding":{"x":{"field":"c","type":"quantitative"},"y":{"field":"m","type":"quantitative"},"text":{"field":"id","type":"nominal"}}},
     {"transform":[{"filter":"isValid(datum.m) && datum.lctr=='sw'"}],"mark":{"type":"text","align":"right","baseline":"middle","dx":-5,"dy":18,"fontSize":15},"encoding":{"x":{"field":"c","type":"quantitative"},"y":{"field":"m","type":"quantitative"},"text":{"field":"id","type":"nominal"}}},
     {"transform":[{"filter":"isValid(datum.m) && datum.lctr=='e'"}],"mark":{"type":"text","align":"left","baseline":"middle","dx":12,"dy":0,"fontSize":15},"encoding":{"x":{"field":"c","type":"quantitative"},"y":{"field":"m","type":"quantitative"},"text":{"field":"id","type":"nominal"}}},
     {"transform":[{"filter":"isValid(datum.m) && datum.lctr=='w'"}],"mark":{"type":"text","align":"right","baseline":"middle","dx":-13,"dy":8,"fontSize":15},"encoding":{"x":{"field":"c","type":"quantitative"},"y":{"field":"m","type":"quantitative"},"text":{"field":"id","type":"nominal"}}},
     {"data":{"name":"limC"},"mark":{"type":"rule","color":"#9a9a9a","strokeWidth":3},"encoding":{"x":{"field":"c","type":"quantitative"},"y":{"field":"y0","type":"quantitative"},"y2":{"field":"y1"}}},
     {"data":{"name":"limC"},"mark":{"type":"point","shape":"triangle-up","filled":true,"size":45,"color":"#9a9a9a","opacity":1},"encoding":{"x":{"field":"c","type":"quantitative"},"y":{"field":"y1","type":"quantitative"}}},
     {"data":{"name":"limC"},"transform":[{"filter":"datum.ltr=='te'"}],"mark":{"type":"text","align":"left","baseline":"middle","dx":7,"dy":5,"fontSize":15,"color":"#9a9a9a"},"encoding":{"x":{"field":"c","type":"quantitative"},"y":{"field":"y1","type":"quantitative"},"text":{"field":"lab","type":"nominal"}}},
     {"data":{"name":"limC"},"transform":[{"filter":"datum.ltr=='be'"}],"mark":{"type":"text","align":"left","baseline":"middle","dx":7,"dy":2,"fontSize":15,"color":"#9a9a9a"},"encoding":{"x":{"field":"c","type":"quantitative"},"y":{"field":"y0","type":"quantitative"},"text":{"field":"lab","type":"nominal"}}},
     {"data": {"name": "one"}, "mark":{"type":"text","align":"center","baseline":"middle","fontSize":15,"text":"17"},"encoding":{"x":{"datum":0.395},"y":{"datum":0.02}}}
    ]},
   {"width": 70, "height": 10, "view": {"stroke": null}, "data": {"values": []}, "mark": "point", "encoding": {}},
   {"width": 456, "height": 263, "view": {"stroke": "#777"}, "data": {"name": "comets"},
    "layer": [
     {"data": {"name": "one"}, "mark": {"type":"rule","color":"#9a9a9a","strokeDash":[8,6],"strokeWidth":1.3}, "encoding": {"y": {"datum": -0.5}}},
     {"transform":[{"filter":"datum.shp=='square'"}],
      "mark":{"type":"point","shape":"square","filled":true,"size":430,"strokeWidth":1.5,"opacity":1},
      "encoding":{
       "x":{"field":"q","type":"quantitative","scale":{"type":"log","domain":[0.298,3.0],"nice":false,"zero":false},"axis":{"title":"Perihelion (AU)","values":[0.3,0.4,0.5,0.6,0.7,0.8,0.9,1,2,3],"tickCount":500,"labelExpr":"datum.value==0.5 ? '0.5' : datum.value==1 ? '1.0' : datum.value==2 ? '2.0' : ''","labelOverlap":false,"tickSize":-6,"labelPadding":21,"labelFontSize":17,"titleFontSize":21,"titlePadding":17}},
       "y":{"field":"e","type":"quantitative","scale":{"domain":[-1.097,0.498],"nice":false,"zero":false},"axis":{"title":"Log₁₀(HCN/CO)","values":[-1,-0.9,-0.8,-0.7,-0.6,-0.5,-0.4,-0.3,-0.2,-0.1,0,0.1,0.2,0.3,0.4],"tickCount":500,"labelExpr":"datum.value==0 ? '0.0' : abs(datum.value+0.5)<0.001 ? '0.5' : abs(datum.value+1)<0.001 ? '-1.0' : ''","labelOverlap":false,"tickSize":-6,"labelPadding":12,"labelFontSize":16,"titleFontSize":21,"titlePadding":27,"minExtent":32,"maxExtent":32}},
       "fill":{"field":"grp","type":"nominal","scale":{"domain":["red","orange","green","blue"],"range":["#EE4524","#FDB92A","#5CB633","#19AEE5"]},"legend":null},
       "stroke":{"field":"grp","type":"nominal","scale":{"domain":["red","orange","green","blue"],"range":["#A8301C","#C8952D","#1E7B32","#4B6CD1"]},"legend":null}}},
     {"transform":[{"filter":"datum.shp=='circle' && !datum.grad"}],
      "mark":{"type":"point","shape":"circle","filled":true,"size":320,"strokeWidth":1.5,"opacity":1},
      "encoding":{"x":{"field":"q","type":"quantitative"},"y":{"field":"e","type":"quantitative"},"fill":{"field":"grp","type":"nominal","legend":null},"stroke":{"field":"grp","type":"nominal","legend":null}}},
     {"transform":[{"filter":"datum.grad"}],
      "mark":{"type":"point","shape":"circle","filled":true,"size":320,"strokeWidth":1.5,"opacity":1,"fill":{"gradient":"linear","x1":0,"y1":0,"x2":1,"y2":0,"stops":[{"offset":0,"color":"#F8BA26"},{"offset":0.5,"color":"#EDB626"},{"offset":1,"color":"#45A832"}]}},
      "encoding":{"x":{"field":"q","type":"quantitative"},"y":{"field":"e","type":"quantitative"},"stroke":{"condition":{"test":"datum.id==8","value":"#1E7B32"},"value":"#B8962A"}}},
     {"mark":{"type":"rule","strokeWidth":1.6,"clip":true},
      "encoding":{"x":{"field":"q","type":"quantitative"},"y":{"field":"elo","type":"quantitative"},"y2":{"field":"ehi"},
       "color":{"field":"grp","type":"nominal","scale":{"domain":["red","orange","green","blue"],"range":["#B5341F","#D09A2E","#2E8A3C","#4257C9"]},"legend":null}}},
     {"transform":[{"filter":"datum.lcbl=='ne'"}],"mark":{"type":"text","align":"left","baseline":"middle","dx":7,"dy":-18,"fontSize":15},"encoding":{"x":{"field":"q","type":"quantitative"},"y":{"field":"e","type":"quantitative"},"text":{"field":"id","type":"nominal"}}},
     {"transform":[{"filter":"datum.lcbl=='nw'"}],"mark":{"type":"text","align":"right","baseline":"middle","dx":-4,"dy":-18,"fontSize":15},"encoding":{"x":{"field":"q","type":"quantitative"},"y":{"field":"e","type":"quantitative"},"text":{"field":"id","type":"nominal"}}},
     {"transform":[{"filter":"datum.lcbl=='se'"}],"mark":{"type":"text","align":"left","baseline":"middle","dx":6,"dy":20,"fontSize":15},"encoding":{"x":{"field":"q","type":"quantitative"},"y":{"field":"e","type":"quantitative"},"text":{"field":"id","type":"nominal"}}},
     {"transform":[{"filter":"datum.lcbl=='sw'"}],"mark":{"type":"text","align":"right","baseline":"middle","dx":-6,"dy":16,"fontSize":15},"encoding":{"x":{"field":"q","type":"quantitative"},"y":{"field":"e","type":"quantitative"},"text":{"field":"id","type":"nominal"}}},
     {"transform":[{"filter":"datum.lcbl=='e'"}],"mark":{"type":"text","align":"left","baseline":"middle","dx":15,"dy":0,"fontSize":15},"encoding":{"x":{"field":"q","type":"quantitative"},"y":{"field":"e","type":"quantitative"},"text":{"field":"id","type":"nominal"}}},
     {"transform":[{"filter":"datum.lcbl=='w'"}],"mark":{"type":"text","align":"right","baseline":"middle","dx":-15,"dy":2,"fontSize":15},"encoding":{"x":{"field":"q","type":"quantitative"},"y":{"field":"e","type":"quantitative"},"text":{"field":"id","type":"nominal"}}}
    ]},
   {"width": 456, "height": 263, "view": {"stroke": "#777"}, "data": {"name": "comets"},
    "layer": [
     {"data": {"name": "one"}, "mark": {"type":"rule","color":"#9a9a9a","strokeDash":[8,6],"strokeWidth":1.3}, "encoding": {"y": {"datum": -0.5}}},
     {"transform":[{"filter":"datum.shp=='square'"}],
      "mark":{"type":"point","shape":"square","filled":true,"size":430,"strokeWidth":1.5,"opacity":1},
      "encoding":{
       "x":{"field":"c","type":"quantitative","scale":{"domain":[-1.2,1.22],"nice":false,"zero":false},"axis":{"title":"cos i","titleFontStyle":"italic","values":[-1.1,-1,-0.9,-0.8,-0.7,-0.6,-0.5,-0.4,-0.3,-0.2,-0.1,0,0.1,0.2,0.3,0.4,0.5,0.6,0.7,0.8,0.9,1,1.1],"tickCount":500,"labelExpr":"abs(datum.value*2-round(datum.value*2))<0.01 ? replace(format(datum.value,'.1f'),'−','-') : ''","labelOverlap":false,"tickSize":-6,"labelPadding":21,"labelFontSize":17,"titleFontSize":21,"titlePadding":17}},
       "y":{"field":"e","type":"quantitative","scale":{"domain":[-1.097,0.498],"nice":false,"zero":false},"axis":{"labels":false,"title":null,"values":[-1,-0.9,-0.8,-0.7,-0.6,-0.5,-0.4,-0.3,-0.2,-0.1,0,0.1,0.2,0.3,0.4],"tickCount":500,"tickSize":-6}},
       "fill":{"field":"grp","type":"nominal","scale":{"domain":["red","orange","green","blue"],"range":["#EE4524","#FDB92A","#5CB633","#19AEE5"]},"legend":null},
       "stroke":{"field":"grp","type":"nominal","scale":{"domain":["red","orange","green","blue"],"range":["#A8301C","#C8952D","#1E7B32","#4B6CD1"]},"legend":null}}},
     {"transform":[{"filter":"datum.shp=='circle' && !datum.grad"}],
      "mark":{"type":"point","shape":"circle","filled":true,"size":320,"strokeWidth":1.5,"opacity":1},
      "encoding":{"x":{"field":"c","type":"quantitative"},"y":{"field":"e","type":"quantitative"},"fill":{"field":"grp","type":"nominal","legend":null},"stroke":{"field":"grp","type":"nominal","legend":null}}},
     {"transform":[{"filter":"datum.grad"}],
      "mark":{"type":"point","shape":"circle","filled":true,"size":320,"strokeWidth":1.5,"opacity":1,"fill":{"gradient":"linear","x1":0,"y1":0,"x2":1,"y2":0,"stops":[{"offset":0,"color":"#F8BA26"},{"offset":0.5,"color":"#EDB626"},{"offset":1,"color":"#45A832"}]}},
      "encoding":{"x":{"field":"c","type":"quantitative"},"y":{"field":"e","type":"quantitative"},"stroke":{"condition":{"test":"datum.id==8","value":"#1E7B32"},"value":"#B8962A"}}},
     {"mark":{"type":"rule","strokeWidth":1.6,"clip":true},
      "encoding":{"x":{"field":"c","type":"quantitative"},"y":{"field":"elo","type":"quantitative"},"y2":{"field":"ehi"},
       "color":{"field":"grp","type":"nominal","scale":{"domain":["red","orange","green","blue"],"range":["#B5341F","#D09A2E","#2E8A3C","#4257C9"]},"legend":null}}},
     {"transform":[{"filter":"datum.lcbr=='ne'"}],"mark":{"type":"text","align":"left","baseline":"middle","dx":7,"dy":-18,"fontSize":15},"encoding":{"x":{"field":"c","type":"quantitative"},"y":{"field":"e","type":"quantitative"},"text":{"field":"id","type":"nominal"}}},
     {"transform":[{"filter":"datum.lcbr=='nw'"}],"mark":{"type":"text","align":"right","baseline":"middle","dx":-6,"dy":-19,"fontSize":15},"encoding":{"x":{"field":"c","type":"quantitative"},"y":{"field":"e","type":"quantitative"},"text":{"field":"id","type":"nominal"}}},
     {"transform":[{"filter":"datum.lcbr=='se'"}],"mark":{"type":"text","align":"left","baseline":"middle","dx":10,"dy":16,"fontSize":15},"encoding":{"x":{"field":"c","type":"quantitative"},"y":{"field":"e","type":"quantitative"},"text":{"field":"id","type":"nominal"}}},
     {"transform":[{"filter":"datum.lcbr=='sw'"}],"mark":{"type":"text","align":"right","baseline":"middle","dx":-10,"dy":15,"fontSize":15},"encoding":{"x":{"field":"c","type":"quantitative"},"y":{"field":"e","type":"quantitative"},"text":{"field":"id","type":"nominal"}}},
     {"transform":[{"filter":"datum.lcbr=='e'"}],"mark":{"type":"text","align":"left","baseline":"middle","dx":15,"dy":4,"fontSize":15},"encoding":{"x":{"field":"c","type":"quantitative"},"y":{"field":"e","type":"quantitative"},"text":{"field":"id","type":"nominal"}}},
     {"transform":[{"filter":"datum.lcbr=='w'"}],"mark":{"type":"text","align":"right","baseline":"middle","dx":-15,"dy":6,"fontSize":15},"encoding":{"x":{"field":"c","type":"quantitative"},"y":{"field":"e","type":"quantitative"},"text":{"field":"id","type":"nominal"}}}
    ]}
 ]}
]
}
